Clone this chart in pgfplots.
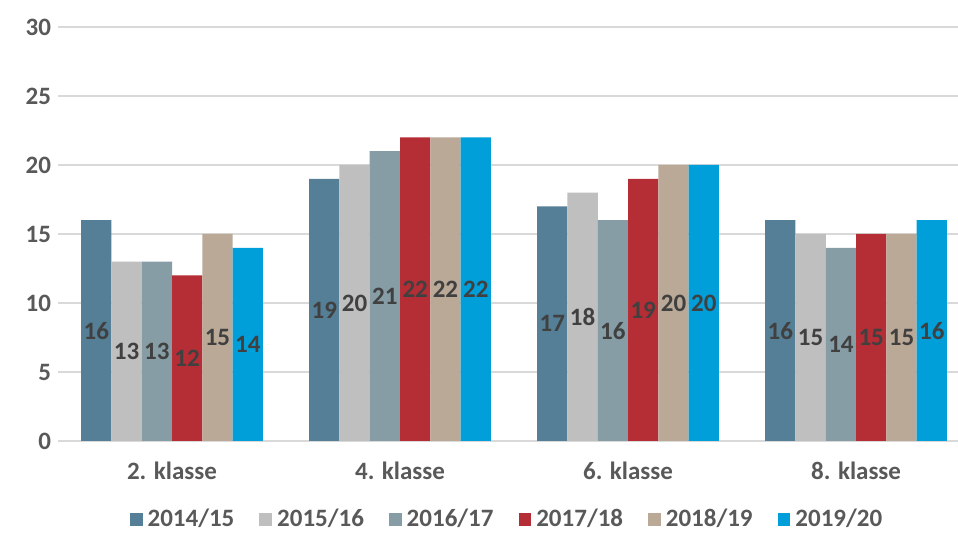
\documentclass[border=0pt]{standalone}
\usepackage{pgfplots}
\pgfplotsset{compat=1.18}
\usepackage{fontspec}
\setmainfont{Carlito}
\definecolor{cA}{HTML}{557F96}
\definecolor{cB}{HTML}{BFBFBF}
\definecolor{cC}{HTML}{879DA5}
\definecolor{cD}{HTML}{B52D35}
\definecolor{cE}{HTML}{BAA996}
\definecolor{cF}{HTML}{009FD9}
\definecolor{txt}{HTML}{595959}
\definecolor{lbl}{HTML}{404040}
\definecolor{grd}{HTML}{D9D9D9}
\begin{document}
\begin{tikzpicture}
\begin{axis}[
  scale only axis,
  width=450pt, height=207pt,
  xmin=-0.5, xmax=3.447,
  ymin=0, ymax=30,
  ytick={0,5,...,30},
  xtick={0,1,2,3},
  xticklabels={2. klasse,4. klasse,6. klasse,8. klasse},
  /pgf/number format/assume math mode=true,
  ymajorgrids,
  grid style={grd, line width=0.7pt},
  axis line style={draw=none},
  major tick length=0pt,
  ticklabel style={font=\fontsize{12.5}{14}\selectfont\bfseries, text=txt},
  xticklabel style={yshift=-7pt},
  yticklabel style={xshift=0pt},
  ybar=0pt,
  bar width=15.15pt,
  nodes near coords,
  visualization depends on=y \as \rawy,
  every node near coord/.append style={font=\fontsize{12.5}{14}\selectfont\bfseries, text=lbl, anchor=center, shift={(axis direction cs:0,-\rawy/2)}},
  legend columns=6,
  legend style={at={(0.5,-0.19)}, anchor=center, draw=none, fill=none,
    font=\fontsize{12.5}{14}\selectfont\bfseries, text=txt,
    /tikz/every even column/.append style={column sep=10.5pt},
    /tikz/every odd column/.append style={column sep=0.5pt}},
  legend image code/.code={\fill[#1] (0pt,-3.2pt) rectangle (6.4pt,3.2pt);},
  clip=false,
]
\addplot[fill=cA, draw=none] coordinates {(0,16) (1,19) (2,17) (3,16)};
\addplot[fill=cB, draw=none] coordinates {(0,13) (1,20) (2,18) (3,15)};
\addplot[fill=cC, draw=none] coordinates {(0,13) (1,21) (2,16) (3,14)};
\addplot[fill=cD, draw=none] coordinates {(0,12) (1,22) (2,19) (3,15)};
\addplot[fill=cE, draw=none] coordinates {(0,15) (1,22) (2,20) (3,15)};
\addplot[fill=cF, draw=none] coordinates {(0,14) (1,22) (2,20) (3,16)};
\legend{2014/15,2015/16,2016/17,2017/18,2018/19,2019/20}
\end{axis}
\pgfresetboundingbox
\path[use as bounding box] (-29pt,-46.5pt) rectangle (450pt,220.5pt);
\end{tikzpicture}
\end{document}
